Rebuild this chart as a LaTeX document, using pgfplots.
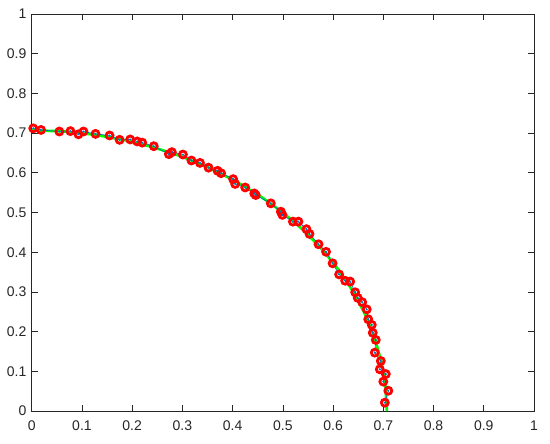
\documentclass[border=0pt]{standalone}
\usepackage{pgfplots}
\pgfplotsset{compat=1.18}
\usepackage{fontspec}
\setmainfont{Liberation Sans}
\definecolor{axgray}{RGB}{38,38,38}
\definecolor{mgreen}{RGB}{0,255,0}
\definecolor{mblue}{RGB}{0,114,189}
\begin{document}
\begin{tikzpicture}
\begin{axis}[
  scale only axis,
  width=376.7pt, height=297.75pt,
  xmin=0, xmax=1, ymin=0, ymax=1,
  xtick={0,0.1,...,1}, ytick={0,0.1,...,1},
  xticklabels={0,0.1,0.2,0.3,0.4,0.5,0.6,0.7,0.8,0.9,1},
  yticklabels={0,0.1,0.2,0.3,0.4,0.5,0.6,0.7,0.8,0.9,1},
  tick align=inside,
  major tick length=4.5pt,
  axis line style={axgray, line width=0.5pt},
  tick style={axgray, line width=0.5pt},
  every tick label/.append style={font=\fontsize{10.5}{12}\selectfont, text=axgray},
  xticklabel style={yshift=-3.5pt},
  yticklabel style={xshift=-0.5pt},
  /pgf/number format/assume math mode=true,
]
\addplot[mgreen, line width=2pt] coordinates {
(0,0.7071) (0.0616,0.7044) (0.1228,0.6964) (0.1830,0.6830) (0.2418,0.6645)
(0.2988,0.6409) (0.3536,0.6124) (0.4056,0.5792) (0.4545,0.5417) (0.5,0.5)
(0.5417,0.4545) (0.5792,0.4056) (0.6124,0.3536) (0.6409,0.2988) (0.6645,0.2418)
(0.6830,0.1830) (0.6964,0.1228) (0.7044,0.0616) (0.7071,0)
};
\addplot[mblue, line width=0.5pt] coordinates {
(0.003,0.712) (0.0185,0.708) (0.055,0.704) (0.077,0.705) (0.093,0.697) (0.103,0.704)
(0.127,0.698) (0.155,0.694) (0.175,0.683) (0.196,0.684) (0.210,0.679) (0.220,0.676)
(0.243,0.667) (0.273,0.647) (0.279,0.652) (0.301,0.646) (0.318,0.631) (0.335,0.625)
(0.352,0.613) (0.370,0.605) (0.377,0.599) (0.401,0.584) (0.405,0.572) (0.425,0.563)
(0.443,0.548) (0.446,0.544) (0.476,0.523) (0.496,0.502) (0.499,0.494) (0.520,0.477)
(0.531,0.477) (0.547,0.458) (0.553,0.446) (0.571,0.420) (0.586,0.401) (0.599,0.372)
(0.612,0.344) (0.624,0.328) (0.634,0.326) (0.644,0.299) (0.649,0.285) (0.658,0.274)
(0.667,0.256) (0.670,0.231) (0.677,0.217) (0.679,0.197) (0.685,0.179) (0.683,0.147)
(0.695,0.126) (0.693,0.105) (0.705,0.093) (0.700,0.074) (0.710,0.051) (0.703,0.021)
};
\addplot[only marks, mark=o, mark size=2.6pt, mark options={red, line width=2.1pt}] coordinates {
(0.003,0.712) (0.0185,0.708) (0.055,0.704) (0.077,0.705) (0.093,0.697) (0.103,0.704)
(0.127,0.698) (0.155,0.694) (0.175,0.683) (0.196,0.684) (0.210,0.679) (0.220,0.676)
(0.243,0.667) (0.273,0.647) (0.279,0.652) (0.301,0.646) (0.318,0.631) (0.335,0.625)
(0.352,0.613) (0.370,0.605) (0.377,0.599) (0.401,0.584) (0.405,0.572) (0.425,0.563)
(0.443,0.548) (0.446,0.544) (0.476,0.523) (0.496,0.502) (0.499,0.494) (0.520,0.477)
(0.531,0.477) (0.547,0.458) (0.553,0.446) (0.571,0.420) (0.586,0.401) (0.599,0.372)
(0.612,0.344) (0.624,0.328) (0.634,0.326) (0.644,0.299) (0.649,0.285) (0.658,0.274)
(0.667,0.256) (0.670,0.231) (0.677,0.217) (0.679,0.197) (0.685,0.179) (0.683,0.147)
(0.695,0.126) (0.693,0.105) (0.705,0.093) (0.700,0.074) (0.710,0.051) (0.703,0.021)
};
\addplot[only marks, mark=*, mark size=0.55pt, mark options={mblue}] coordinates {
(0.003,0.712) (0.0185,0.708) (0.055,0.704) (0.077,0.705) (0.093,0.697) (0.103,0.704)
(0.127,0.698) (0.155,0.694) (0.175,0.683) (0.196,0.684) (0.210,0.679) (0.220,0.676)
(0.243,0.667) (0.273,0.647) (0.279,0.652) (0.301,0.646) (0.318,0.631) (0.335,0.625)
(0.352,0.613) (0.370,0.605) (0.377,0.599) (0.401,0.584) (0.405,0.572) (0.425,0.563)
(0.443,0.548) (0.446,0.544) (0.476,0.523) (0.496,0.502) (0.499,0.494) (0.520,0.477)
(0.531,0.477) (0.547,0.458) (0.553,0.446) (0.571,0.420) (0.586,0.401) (0.599,0.372)
(0.612,0.344) (0.624,0.328) (0.634,0.326) (0.644,0.299) (0.649,0.285) (0.658,0.274)
(0.667,0.256) (0.670,0.231) (0.677,0.217) (0.679,0.197) (0.685,0.179) (0.683,0.147)
(0.695,0.126) (0.693,0.105) (0.705,0.093) (0.700,0.074) (0.710,0.051) (0.703,0.021)
};
\end{axis}
\pgfresetboundingbox
\path (current axis.south west) ++(-23.8pt,-24pt) coordinate (bl);
\path (current axis.north east) ++(12pt,10.5pt) coordinate (tr);
\path[use as bounding box] (bl) rectangle (tr);
\end{tikzpicture}
\end{document}
